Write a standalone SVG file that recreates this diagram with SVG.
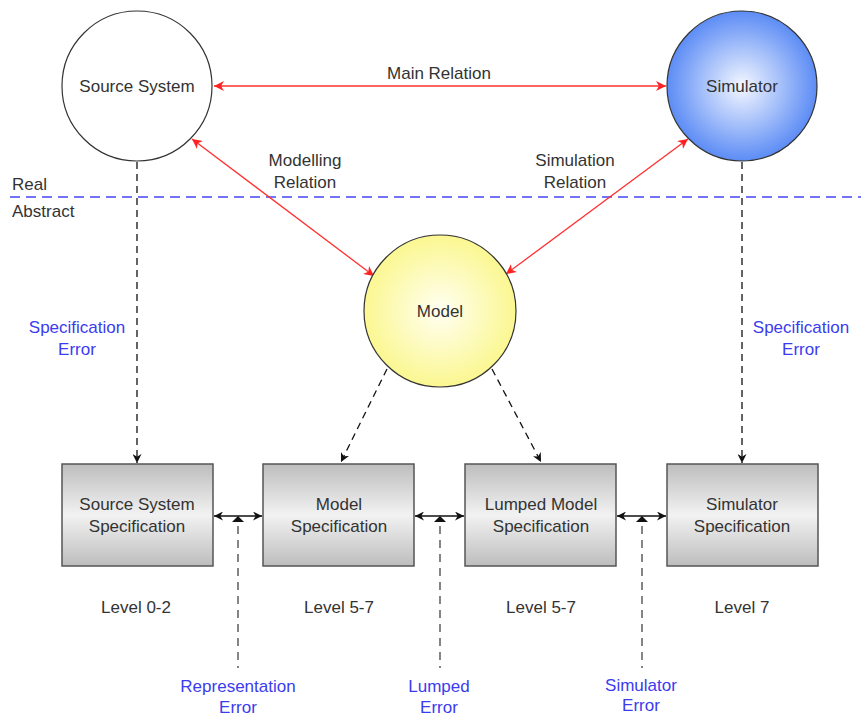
<svg xmlns="http://www.w3.org/2000/svg" width="861" height="717" viewBox="0 0 861 717">
  <style>
    text { font-family: "Liberation Sans", Arial, sans-serif; font-size: 17px; fill: #333333; text-anchor: middle; }
    text.blue { fill: #3b3bf0; }
    text.left { text-anchor: start; }
    .circle { stroke: #333333; stroke-width: 1.2; }
    .box { fill: url(#boxGrad); stroke: #555555; stroke-width: 1.5; }
    .red { stroke: #ff3030; stroke-width: 1.3; fill: none; marker-start: url(#redStart); marker-end: url(#redEnd); }
    .dash { stroke: #111111; stroke-width: 1.3; fill: none; stroke-dasharray: 7 5; marker-end: url(#blackEnd); }
    .err { stroke: #444444; stroke-width: 1.3; fill: none; stroke-dasharray: 8 6; }
    .link { stroke: #111111; stroke-width: 1.5; fill: none; marker-start: url(#blackStart); marker-end: url(#blackEnd); }
  </style>
  <defs>
    <radialGradient id="blueGrad" cx="0.5" cy="0.5" r="0.5">
      <stop offset="0" stop-color="#f4f7ff"/>
      <stop offset="1" stop-color="#5c8cf5"/>
    </radialGradient>
    <radialGradient id="yellowGrad" cx="0.5" cy="0.5" r="0.5">
      <stop offset="0" stop-color="#fffff2"/>
      <stop offset="1" stop-color="#fbf791"/>
    </radialGradient>
    <linearGradient id="boxGrad" x1="0" y1="0" x2="0" y2="1">
      <stop offset="0" stop-color="#bdbdbd"/>
      <stop offset="0.5" stop-color="#f2f2f2"/>
      <stop offset="1" stop-color="#bdbdbd"/>
    </linearGradient>
    <marker id="redEnd" viewBox="0 0 10 10" refX="10" refY="5" markerWidth="10" markerHeight="10" markerUnits="userSpaceOnUse" orient="auto">
      <path d="M0,0 L10,5 L0,10 L3,5 Z" fill="#ff2020"/>
    </marker>
    <marker id="redStart" viewBox="0 0 10 10" refX="0" refY="5" markerWidth="10" markerHeight="10" markerUnits="userSpaceOnUse" orient="auto">
      <path d="M10,0 L0,5 L10,10 L7,5 Z" fill="#ff2020"/>
    </marker>
    <marker id="blackEnd" viewBox="0 0 10 10" refX="10" refY="5" markerWidth="9" markerHeight="9" markerUnits="userSpaceOnUse" orient="auto">
      <path d="M0,0 L10,5 L0,10 L3,5 Z" fill="#111111"/>
    </marker>
    <marker id="blackStart" viewBox="0 0 10 10" refX="0" refY="5" markerWidth="9" markerHeight="9" markerUnits="userSpaceOnUse" orient="auto">
      <path d="M10,0 L0,5 L10,10 L7,5 Z" fill="#111111"/>
    </marker>
  </defs>

  <rect width="861" height="717" fill="#ffffff"/>

  <!-- boundary between real and abstract -->
  <g id="boundary">
    <line x1="10" y1="197" x2="861" y2="197" stroke="#7373f5" stroke-width="2" stroke-dasharray="10 6"/>
    <text class="left" x="12" y="190">Real</text>
    <text class="left" x="12" y="217">Abstract</text>
  </g>

  <!-- connectors -->
  <g id="connectors">
    <line class="red" x1="214" y1="86" x2="666" y2="86"/>
    <line class="red" x1="192" y1="139" x2="374" y2="276"/>
    <line class="red" x1="688" y1="139" x2="506" y2="274"/>
    <line class="dash" x1="137" y1="162" x2="137" y2="463"/>
    <line class="dash" x1="742" y1="162" x2="742" y2="463"/>
    <line class="dash" x1="387" y1="369" x2="341" y2="462"/>
    <line class="dash" x1="492" y1="369" x2="541" y2="462"/>
    <line class="link" x1="214" y1="516" x2="262" y2="516"/>
    <line class="link" x1="415" y1="516" x2="464" y2="516"/>
    <line class="link" x1="617" y1="516" x2="666" y2="516"/>
    <path d="M232,522 L238,516 L244,522 Z" fill="#111111"/>
    <path d="M434,522 L440,516 L446,522 Z" fill="#111111"/>
    <path d="M636,522 L642,516 L648,522 Z" fill="#111111"/>
    <line class="err" x1="238" y1="526" x2="238" y2="668"/>
    <line class="err" x1="440" y1="526" x2="440" y2="668"/>
    <line class="err" x1="642" y1="526" x2="642" y2="668"/>
  </g>

  <!-- relation labels -->
  <g id="labels">
    <text x="439" y="79">Main Relation</text>
    <text x="305" y="166">Modelling</text>
    <text x="305" y="188">Relation</text>
    <text x="575" y="166">Simulation</text>
    <text x="575" y="188">Relation</text>
    <text class="blue" x="77" y="333">Specification</text>
    <text class="blue" x="77" y="355">Error</text>
    <text class="blue" x="801" y="333">Specification</text>
    <text class="blue" x="801" y="355">Error</text>
    <text class="blue" x="238" y="692">Representation</text>
    <text class="blue" x="238" y="713">Error</text>
    <text class="blue" x="439" y="692">Lumped</text>
    <text class="blue" x="439" y="713">Error</text>
    <text class="blue" x="641" y="691">Simulator</text>
    <text class="blue" x="641" y="711">Error</text>
    <text x="136" y="613">Level 0-2</text>
    <text x="339" y="613">Level 5-7</text>
    <text x="541" y="613">Level 5-7</text>
    <text x="742" y="613">Level 7</text>
  </g>

  <g id="source-system">
    <circle class="circle" cx="137" cy="86" r="75" fill="#ffffff"/>
    <text x="137" y="92">Source System</text>
  </g>
  <g id="simulator">
    <circle class="circle" cx="742" cy="86" r="75" fill="url(#blueGrad)"/>
    <text x="742" y="92">Simulator</text>
  </g>
  <g id="model">
    <circle class="circle" cx="440" cy="311" r="76" fill="url(#yellowGrad)"/>
    <text x="440" y="317">Model</text>
  </g>

  <g id="source-system-spec">
    <rect class="box" x="62" y="464" width="151" height="102"/>
    <text x="137" y="510">Source System</text>
    <text x="137" y="532">Specification</text>
  </g>
  <g id="model-spec">
    <rect class="box" x="263" y="464" width="151" height="102"/>
    <text x="339" y="510">Model</text>
    <text x="339" y="532">Specification</text>
  </g>
  <g id="lumped-model-spec">
    <rect class="box" x="465" y="464" width="151" height="102"/>
    <text x="541" y="510">Lumped Model</text>
    <text x="541" y="532">Specification</text>
  </g>
  <g id="simulator-spec">
    <rect class="box" x="667" y="464" width="151" height="102"/>
    <text x="742" y="510">Simulator</text>
    <text x="742" y="532">Specification</text>
  </g>
</svg>
